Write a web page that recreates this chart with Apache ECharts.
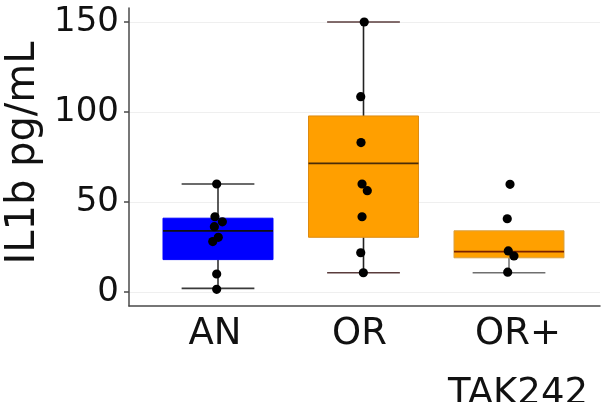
<html>
<head>
    <meta charset="utf-8">
    <title>IL1b</title>
    <script src="https://cdn.jsdelivr.net/npm/echarts@6/dist/echarts.min.js"></script>
    <style>
        html, body { margin: 0; padding: 0; background: #fff; }
        #main { width: 604px; height: 402px; }
    </style>
</head>
<body>
    <div id="main"></div>
    <script>
        // groups and tick labels
        var categories = ['AN', 'OR', 'OR+\nTAK242'];
        var yTicks = [0, 50, 100, 150];

        // box stats per group: min, q1, median, q3, max
        var anBox = [2, 18, 34, 41, 60];
        var orBox = [10.7, 30.4, 71.5, 97.8, 150];
        var takBox = [10.7, 19, 22.4, 34, 34];

        // individual points
        var anPoints = [60, 41.8, 39, 36.3, 30.4, 28, 10, 1.5];
        var orPoints = [150, 108.5, 83, 60, 56.3, 41.8, 21.8, 10.7];
        var takPoints = [59.8, 40.7, 22.8, 20, 11];

        // horizontal jitter of the points, as a fraction of the category band
        var anJitter = [-0.009, -0.021, 0.03, -0.025, 0.002, -0.036, -0.009, -0.009];
        var orJitter = [0.005, -0.019, -0.017, -0.01, 0.026, -0.01, -0.019, -0.001];
        var takJitter = [0.007, -0.012, -0.005, 0.034, -0.009];

        var boxes = [anBox, orBox, takBox];
        var points = [anPoints, orPoints, takPoints];
        var jitters = [anJitter, orJitter, takJitter];

        // styles per group
        var fillColors = ['#0000ff', '#ff9f00', '#ffa000'];
        var borderColors = ['#0000ff', '#dd8a10', '#d9a040'];
        var medianColors = ['#111111', '#4a2c08', '#7a2200'];
        var whiskerColors = ['#333333', '#222222', '#777777'];
        var capColors = ['#3a3a3a', '#5a3c3c', '#6f6f6f'];
        var labelPadding = [[0, 6, 0, 0], [0, 8, 0, 0], [0, 0, 0, 18]];

        var boxData = boxes.map(function (b, i) { return [i].concat(b); });
        var pointData = [];
        points.forEach(function (arr, i) {
            arr.forEach(function (v, k) {
                pointData.push([i, v, jitters[i][k]]);
            });
        });
        var categoryData = categories.map(function (c, i) {
            return { value: c, textStyle: { padding: labelPadding[i] } };
        });

        var font = 'DejaVu Sans';
        var myChart = echarts.init(document.getElementById('main'));

        function renderBox(params, api) {
            var i = api.value(0);
            var mn = api.value(1), q1 = api.value(2), md = api.value(3), q3 = api.value(4), mx = api.value(5);
            var band = api.size([1, 0])[0];
            var boxW = band * 0.756;
            var capW = band * 0.5;
            var pMin = api.coord([i, mn]);
            var pQ1 = api.coord([i, q1]);
            var pMd = api.coord([i, md]);
            var pQ3 = api.coord([i, q3]);
            var pMax = api.coord([i, mx]);
            var cx = pMd[0];
            var children = [];
            var wStyle = { stroke: whiskerColors[i], lineWidth: 1.6 };
            var cStyle = { stroke: capColors[i], lineWidth: 1.6 };
            if (mn < q1) {
                children.push({ type: 'line', shape: { x1: cx, y1: pQ1[1], x2: cx, y2: pMin[1] }, style: wStyle });
                children.push({ type: 'line', shape: { x1: cx - capW / 2, y1: pMin[1], x2: cx + capW / 2, y2: pMin[1] }, style: cStyle });
            }
            if (mx > q3) {
                children.push({ type: 'line', shape: { x1: cx, y1: pQ3[1], x2: cx, y2: pMax[1] }, style: wStyle });
                children.push({ type: 'line', shape: { x1: cx - capW / 2, y1: pMax[1], x2: cx + capW / 2, y2: pMax[1] }, style: cStyle });
            }
            children.push({
                type: 'rect',
                shape: { x: cx - boxW / 2, y: pQ3[1], width: boxW, height: pQ1[1] - pQ3[1] },
                style: { fill: fillColors[i], stroke: borderColors[i], lineWidth: 1 }
            });
            children.push({
                type: 'line',
                shape: { x1: cx - boxW / 2, y1: pMd[1], x2: cx + boxW / 2, y2: pMd[1] },
                style: { stroke: medianColors[i], lineWidth: 1.8 }
            });
            return { type: 'group', children: children };
        }

        function renderPoint(params, api) {
            var i = api.value(0);
            var p = api.coord([i, api.value(1)]);
            var band = api.size([1, 0])[0];
            return {
                type: 'circle',
                shape: { cx: p[0] + api.value(2) * band, cy: p[1], r: 4.6 },
                style: { fill: '#000' }
            };
        }

        var option = {
            animation: false,
            backgroundColor: '#fff',
            grid: [
                { left: 129, right: 4, top: 8, bottom: 96, outerBoundsMode: 'none' },
                { left: 129, right: 4, top: 22, bottom: 110, outerBoundsMode: 'none' },
                { left: 145.25, right: 22.25, top: 22, bottom: 110, outerBoundsMode: 'none' }
            ],
            xAxis: [
                {
                    gridIndex: 0, type: 'value', min: 0, max: 1,
                    axisLine: { show: true, lineStyle: { color: '#4a4a4a', width: 1.5 } },
                    axisTick: { show: false }, axisLabel: { show: false }, splitLine: { show: false }
                },
                { gridIndex: 1, type: 'value', min: 0, max: 1, show: false },
                {
                    gridIndex: 2, type: 'category', data: categoryData, boundaryGap: true,
                    axisLine: { show: false }, axisTick: { show: false }, splitLine: { show: false },
                    axisLabel: {
                        fontFamily: font, fontSize: 37, color: '#111', margin: 12, lineHeight: 60, interval: 0
                    }
                }
            ],
            yAxis: [
                {
                    gridIndex: 0, type: 'value', min: 0, max: 1,
                    axisLine: { show: true, lineStyle: { color: '#4a4a4a', width: 1.5 } },
                    axisTick: { show: false }, axisLabel: { show: false }, splitLine: { show: false },
                    name: 'IL1b pg/mL', nameLocation: 'middle', nameGap: 85,
                    nameTextStyle: { fontFamily: font, fontSize: 40, color: '#111', padding: [0, 0, 0, 8] }
                },
                {
                    gridIndex: 1, type: 'value', min: yTicks[0], max: yTicks[yTicks.length - 1], interval: 50,
                    axisLine: { show: false },
                    axisTick: { show: true, length: 5, lineStyle: { color: '#4a4a4a', width: 1.5 } },
                    axisLabel: { fontFamily: font, fontSize: 34, color: '#111', margin: 10 },
                    splitLine: { show: true, lineStyle: { color: '#efefef', width: 1 } }
                },
                { gridIndex: 2, type: 'value', min: 0, max: 150, show: false }
            ],
            series: [
                {
                    type: 'custom', xAxisIndex: 2, yAxisIndex: 2,
                    renderItem: renderBox, data: boxData,
                    encode: { x: 0, y: [1, 2, 3, 4, 5] }, clip: false, z: 2
                },
                {
                    type: 'custom', xAxisIndex: 2, yAxisIndex: 2,
                    renderItem: renderPoint, data: pointData,
                    encode: { x: 0, y: 1 }, clip: false, z: 3
                }
            ]
        };
        myChart.setOption(option);
    </script>
</body>
</html>
